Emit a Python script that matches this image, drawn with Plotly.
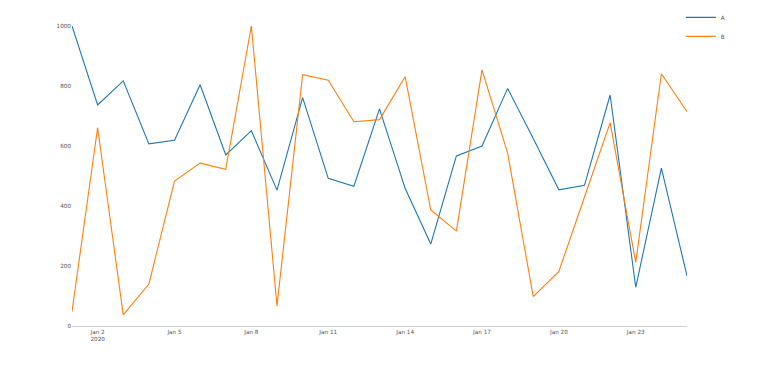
import plotly.graph_objects as go
import pandas as pd

dates = pd.date_range("2020-01-01", "2020-01-25", freq="D")
series_a = [1000, 737, 817, 607, 619, 804, 570, 651, 453, 761, 492, 466, 724,
            459, 273, 567, 600, 792, 625, 454, 469, 770, 129, 526, 167]
series_b = [48, 661, 37, 140, 483, 543, 522, 1000, 67, 838, 819, 681, 688,
            831, 387, 316, 854, 576, 98, 182, 430, 678, 212, 841, 714]

fig = go.Figure()
fig.add_trace(go.Scatter(x=dates, y=series_a, mode="lines", name="A",
                         line=dict(color="#1f77b4", width=1.1)))
fig.add_trace(go.Scatter(x=dates, y=series_b, mode="lines", name="B",
                         line=dict(color="#ff7f0e", width=1.1)))

fig.update_layout(
    template="none",
    width=765, height=356,
    margin=dict(l=64, r=86, t=18, b=38, autoexpand=False),
    paper_bgcolor="white", plot_bgcolor="white",
    font=dict(family="DejaVu Sans", size=5.7, color="#555"),
    showlegend=True,
    legend=dict(x=0.99, y=1.077, xanchor="left", yanchor="top",
                font=dict(size=5.7), tracegroupgap=0, bgcolor="rgba(0,0,0,0)"),
)
fig.update_xaxes(range=[dates[0], dates[-1]], showgrid=False, zeroline=False,
                 showline=True, linecolor="#d0d0d0", linewidth=1.2,
                 ticks="", tick0="2020-01-02", dtick=3 * 86400000)
fig.update_yaxes(range=[0, 1000], showgrid=False, zeroline=False, showline=False,
                 ticks="", dtick=200)

fig.write_html("out.html")
